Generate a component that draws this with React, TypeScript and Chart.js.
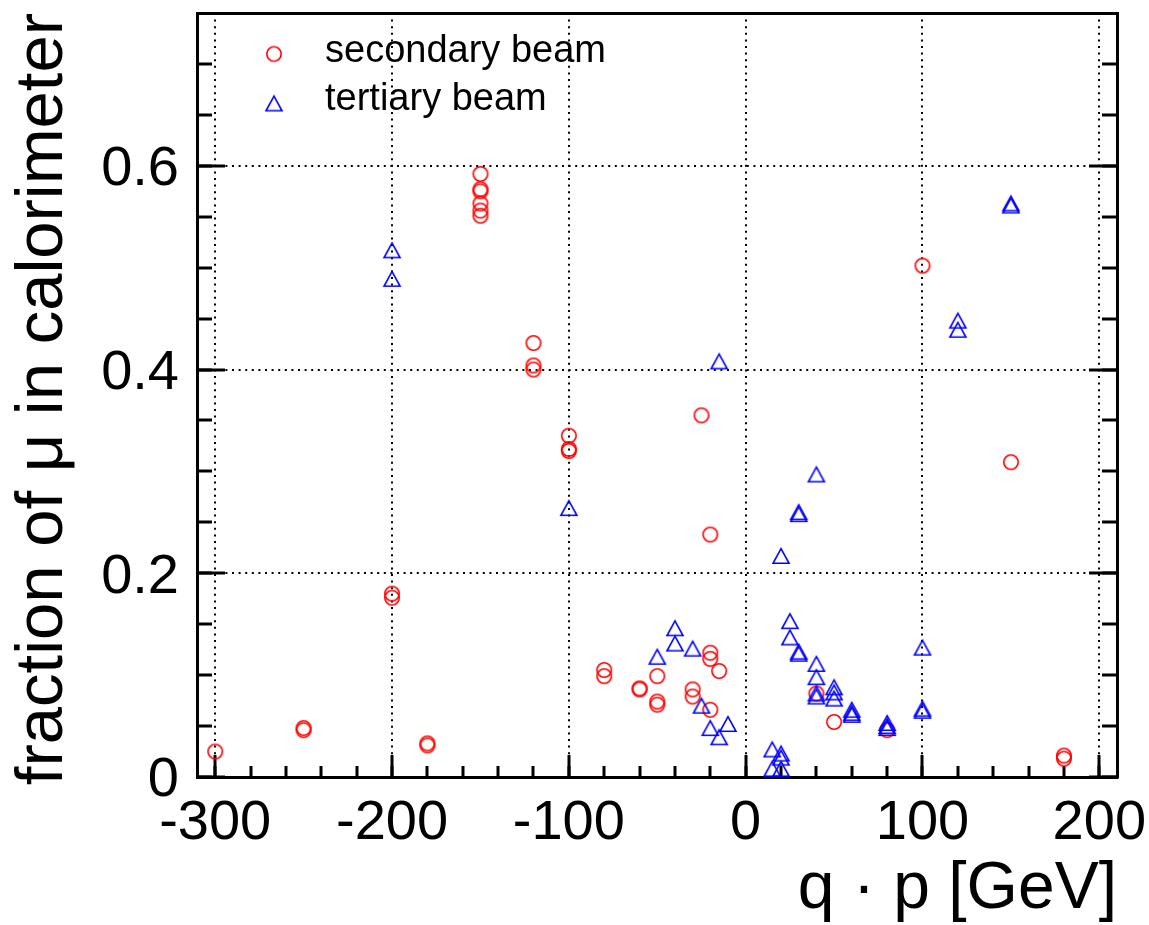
import React, { useEffect, useRef } from 'react';
import { Chart, registerables } from 'chart.js';

Chart.register(...registerables);

// ---------------- data ----------------
const secondaryX = [
  -300,
  -250, -250,
  -200, -200,
  -180, -180,
  -150, -150, -150, -150, -150, -150,
  -120, -120, -120,
  -100, -100, -100,
  -80, -80,
  -60, -60,
  -50, -50, -50,
  -30, -30,
  -25,
  -20, -20, -20, -20,
  -15,
  40, 50, 80, 100, 150,
  180, 180,
];
const secondaryY = [
  0.025,
  0.048, 0.046,
  0.180, 0.176,
  0.033, 0.031,
  0.592, 0.577, 0.575, 0.563, 0.556, 0.551,
  0.426, 0.404, 0.400,
  0.335, 0.322, 0.320,
  0.105, 0.099,
  0.087, 0.086,
  0.099, 0.074, 0.071,
  0.086, 0.079,
  0.355,
  0.238, 0.122, 0.116, 0.066,
  0.104,
  0.082, 0.054, 0.046, 0.502, 0.309,
  0.021, 0.018,
];

const tertiaryX = [
  -200, -200,
  -100,
  -50,
  -40, -40,
  -30,
  -25,
  -20,
  -15, -15,
  -10,
  15, 15,
  20, 20, 20, 20,
  25, 25,
  30, 30, 30, 30,
  40, 40, 40, 40, 40,
  50, 50, 50,
  60, 60, 60,
  80, 80, 80,
  100, 100, 100,
  120, 120,
  150, 150,
];
const tertiaryY = [
  0.517, 0.489,
  0.264,
  0.118,
  0.146, 0.131,
  0.126,
  0.070,
  0.048,
  0.408, 0.039,
  0.052,
  0.027, 0.008,
  0.217, 0.023, 0.019, 0.008,
  0.153, 0.137,
  0.260, 0.258, 0.123, 0.121,
  0.297, 0.111, 0.098, 0.082, 0.079,
  0.088, 0.083, 0.077,
  0.066, 0.063, 0.061,
  0.053, 0.050, 0.048,
  0.127, 0.067, 0.065,
  0.448, 0.439,
  0.563, 0.561,
];

const seriesNames = ['secondary beam', 'tertiary beam'];
const seriesColors = ['#ff0000', '#0000ff'];

const xMajorTicks = [-300, -200, -100, 0, 100, 200];
const xTickLabels = ['-300', '-200', '-100', '0', '100', '200'];
const xMinorTicks = [
  -300, -280, -260, -240, -220, -200, -180, -160, -140, -120, -100,
  -80, -60, -40, -20, 0, 20, 40, 60, 80, 100, 120, 140, 160, 180, 200,
];
const yMajorTicks = [0, 0.2, 0.4, 0.6];
const yTickLabels = ['0', '0.2', '0.4', '0.6'];
const yMinorTicks = [0, 0.05, 0.1, 0.15, 0.2, 0.25, 0.3, 0.35, 0.4, 0.45, 0.5, 0.55, 0.6, 0.65, 0.7];

const xTitle = 'q · p [GeV]';
const yTitle = 'fraction of μ in calorimeter';

const X_MIN = -310.3;
const X_MAX = 210;
const Y_MIN = 0;
const Y_MAX = 0.75;

const FONT = "'Liberation Sans', Arial, Helvetica, sans-serif";

function makeMarker(kind: string, color: string, dx = 0, dy = 0, w = 20, h = 20) {
  const c = document.createElement('canvas');
  c.width = w;
  c.height = h;
  const ctx = c.getContext('2d') as CanvasRenderingContext2D;
  ctx.strokeStyle = color;
  ctx.lineWidth = 1.6;
  const cx = w / 2 + dx;
  const cy = h / 2 + dy;
  ctx.beginPath();
  if (kind === 'circle') {
    ctx.arc(cx, cy, 7.2, 0, Math.PI * 2);
  } else {
    ctx.moveTo(cx - 8.0, cy + 7.3);
    ctx.lineTo(cx + 8.0, cy + 7.3);
    ctx.lineTo(cx, cy - 7.3);
    ctx.closePath();
  }
  ctx.stroke();
  return c;
}

function fixSize(prop: 'width' | 'height', size: number) {
  return (s: any) => {
    s[prop] = size;
    s.paddingLeft = 0;
    s.paddingRight = 0;
    s.paddingTop = 0;
    s.paddingBottom = 0;
  };
}

function setTicks(values: number[]) {
  return (s: any) => {
    s.ticks = values.map((v) => ({ value: v }));
  };
}

export default function App() {
  const ref = useRef<HTMLCanvasElement>(null);

  useEffect(() => {
    document.body.style.margin = '0';
    const canvas = ref.current as HTMLCanvasElement;
    Chart.defaults.font.family = FONT;

    const circle = makeMarker('circle', seriesColors[0]);
    const triangle = makeMarker('triangle', seriesColors[1]);
    const legendCircle = makeMarker('circle', seriesColors[0], 17.5, 2.5, 61, 30);
    const legendTriangle = makeMarker('triangle', seriesColors[1], 17.5, 4, 61, 30);
    const legendMarkers = [legendCircle, legendTriangle];

    const tickFont = { family: FONT, size: 56, lineHeight: 1 };
    const black = '#000000';

    const minorAxis = (pos: string, ticks: number[], len: number, min: number, max: number) => ({
      type: 'linear',
      position: pos,
      min,
      max,
      weight: 0,
      display: true,
      afterBuildTicks: setTicks(ticks),
      afterFit: fixSize(pos === 'left' || pos === 'right' ? 'width' : 'height', 0),
      ticks: { display: false, autoSkip: false },
      grid: {
        display: true,
        drawOnChartArea: false,
        drawTicks: true,
        tickLength: len,
        tickWidth: 3,
        tickColor: black,
        tickBorderDash: [],
        color: black,
        lineWidth: 0,
      },
      border: { display: false },
      title: { display: false },
    });

    const chart = new Chart(canvas, {
      type: 'scatter',
      data: {
        datasets: [
          {
            label: seriesNames[0],
            data: secondaryX.map((x, i) => ({ x, y: secondaryY[i] })),
            pointStyle: circle,
            pointRadius: 8,
            borderColor: seriesColors[0],
            backgroundColor: 'transparent',
            xAxisID: 'x',
            yAxisID: 'y',
            order: 1,
            clip: false,
          },
          {
            label: seriesNames[1],
            data: tertiaryX.map((x, i) => ({ x, y: tertiaryY[i] })),
            pointStyle: triangle,
            pointRadius: 8,
            borderColor: seriesColors[1],
            backgroundColor: 'transparent',
            xAxisID: 'x',
            yAxisID: 'y',
            order: 0,
            clip: false,
          },
        ],
      },
      options: {
        responsive: false,
        animation: false,
        devicePixelRatio: 1,
        events: [],
        layout: { padding: { left: 0, top: 13, right: 32, bottom: 0 } },
        plugins: {
          tooltip: { enabled: false },
          legend: {
            display: true,
            position: 'chartArea',
            align: 'start',
            title: { display: true, text: '', font: { size: 1, lineHeight: 1 }, padding: { top: 21.5, bottom: 0 } },
            labels: {
              usePointStyle: true,
              pointStyleWidth: 99,
              padding: 10,
              color: black,
              font: { family: FONT, size: 38 },
              generateLabels: () =>
                seriesNames.map((text, i) => ({
                  text,
                  pointStyle: legendMarkers[i],
                  fillStyle: 'transparent',
                  strokeStyle: seriesColors[i],
                  lineWidth: 0,
                  hidden: false,
                  datasetIndex: i,
                  fontColor: black,
                })),
            },
          },
        },
        scales: {
          x: {
            type: 'linear',
            position: 'bottom',
            min: X_MIN,
            max: X_MAX,
            weight: 1,
            afterBuildTicks: setTicks(xMajorTicks),
            afterFit: fixSize('height', 148),
            ticks: {
              autoSkip: false,
              maxRotation: 0,
              minRotation: 0,
              padding: 41,
              color: black,
              font: tickFont,
              callback: (_v: any, i: number) => xTickLabels[i],
            },
            grid: {
              display: true,
              drawOnChartArea: true,
              drawTicks: true,
              tickLength: -22,
              tickWidth: 3,
              tickColor: black,
              tickBorderDash: [],
              color: black,
              lineWidth: 2,
            },
            border: { display: true, color: black, width: 3, dash: [2, 4.6] },
            title: {
              display: true,
              text: xTitle,
              align: 'end',
              color: black,
              font: { family: FONT, size: 66, lineHeight: 1 },
              padding: { top: 0, bottom: 2 },
            },
          },
          xMinor: minorAxis('bottom', xMinorTicks, -11, X_MIN, X_MAX),
          xTop: {
            type: 'linear',
            position: 'top',
            min: X_MIN,
            max: X_MAX,
            display: true,
            afterBuildTicks: setTicks(xMajorTicks),
            afterFit: fixSize('height', 0),
            ticks: { display: false },
            grid: { display: true, drawOnChartArea: false, drawTicks: false, lineWidth: 0 },
            border: { display: true, color: black, width: 3 },
          },
          y: {
            type: 'linear',
            position: 'left',
            min: Y_MIN,
            max: Y_MAX,
            weight: 1,
            afterBuildTicks: setTicks(yMajorTicks),
            afterFit: fixSize('width', 197),
            ticks: {
              autoSkip: false,
              padding: 46,
              labelOffset: 4,
              color: black,
              font: tickFont,
              callback: (_v: any, i: number) => yTickLabels[i],
            },
            grid: {
              display: true,
              drawOnChartArea: true,
              drawTicks: true,
              tickLength: -28,
              tickWidth: 3,
              tickColor: black,
              tickBorderDash: [],
              color: black,
              lineWidth: 2,
            },
            border: { display: true, color: black, width: 3, dash: [2, 4.6] },
            title: {
              display: true,
              text: yTitle,
              align: 'end',
              color: black,
              font: { family: FONT, size: 67, lineHeight: 1 },
              padding: { top: 10, bottom: 0 },
            },
          },
          yMinor: minorAxis('left', yMinorTicks, -15, Y_MIN, Y_MAX),
          yRight: {
            type: 'linear',
            position: 'right',
            min: Y_MIN,
            max: Y_MAX,
            weight: 0,
            display: true,
            afterBuildTicks: setTicks(yMajorTicks),
            afterFit: fixSize('width', 0),
            ticks: { display: false },
            grid: {
              display: true,
              drawOnChartArea: false,
              drawTicks: true,
              tickLength: -28,
              tickWidth: 3,
              tickColor: black,
              tickBorderDash: [],
              color: black,
              lineWidth: 0,
            },
            border: { display: true, color: black, width: 3 },
          },
          yRightMinor: minorAxis('right', yMinorTicks, -15, Y_MIN, Y_MAX),
        },
      } as any,
    });

    return () => chart.destroy();
  }, []);

  return (
    <div style={{ width: 1149, height: 925 }}>
      <canvas ref={ref} width={1149} height={925} style={{ display: 'block', width: 1149, height: 925 }} />
    </div>
  );
}
